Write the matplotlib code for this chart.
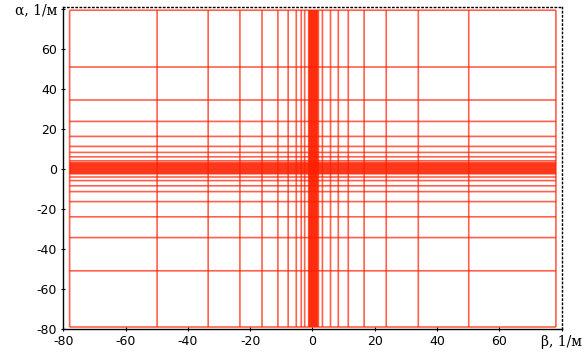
import numpy as np
import matplotlib.pyplot as plt

# beta values (vertical lines), 1/m
beta = [-78, -49.9, -33.5, -23.3, -16.2, -11.1, -7.8, -5.2, -3.6, -2.5,
        -1.2, -1.0, -0.8, -0.6, -0.4, -0.2, 0, 0.2, 0.4, 0.6, 0.8, 1.0,
        1.2, 1.4, 1.6, 1.9, 3.2, 5.8, 8.3, 11.5, 16.6, 23.7, 34, 50.2, 78.2]
# alpha values (horizontal lines), 1/m
alpha = [-79.0, -50.9, -34.3, -23.9, -16.3, -11.3, -8.4, -5.8, -4.0,
         -2.4, -2.0, -1.6, -1.2, -0.8, -0.4, 0, 0.4, 0.8, 1.2, 1.6, 2.0,
         2.4, 2.8, 3.2, 4.1, 6.1, 8.3, 11.3, 16.3, 23.8, 34.5, 51, 79.4]

xticks = [-80, -60, -40, -20, 0, 20, 40, 60, 80]
xlabels = ['-80', '-60', '-40', '-20', '0', '20', '40', '60', 'β, 1/м']
yticks = [-80, -60, -40, -20, 0, 20, 40, 60, 80]
ylabels = ['-80', '-60', '-40', '-20', '0', '20', '40', '60', 'α, 1/м']

fig = plt.figure(figsize=(5.87, 3.54), dpi=100)
ax = fig.add_axes([0.108, 0.0706, 0.8486, 0.9096])

red = '#ff2000'
ax.vlines(beta, min(alpha), max(alpha), colors=red, lw=1.2, alpha=0.7, snap=False)
ax.hlines(alpha, min(beta), max(beta), colors=red, lw=1.2, alpha=0.7, snap=False)

ax.set_xlim(-80, 80)
ax.set_ylim(-80, 81)

ax.set_xticks(xticks)
ax.set_xticklabels(xlabels)
ax.set_yticks(yticks)
ax.set_yticklabels(ylabels)
ax.tick_params(direction='inout', length=3, width=0.8, labelsize=9, pad=3)
for t in ax.get_xticklabels()[-1:] + ax.get_yticklabels()[-1:]:
    t.set_family('DejaVu Serif')
    t.set_fontsize(10)

for s in ['top', 'right']:
    ax.spines[s].set_linestyle((0, (1, 2)))
    ax.spines[s].set_linewidth(1.0)
for s in ['left', 'bottom']:
    ax.spines[s].set_linewidth(1.0)

fig.savefig('out.png', dpi=100)
